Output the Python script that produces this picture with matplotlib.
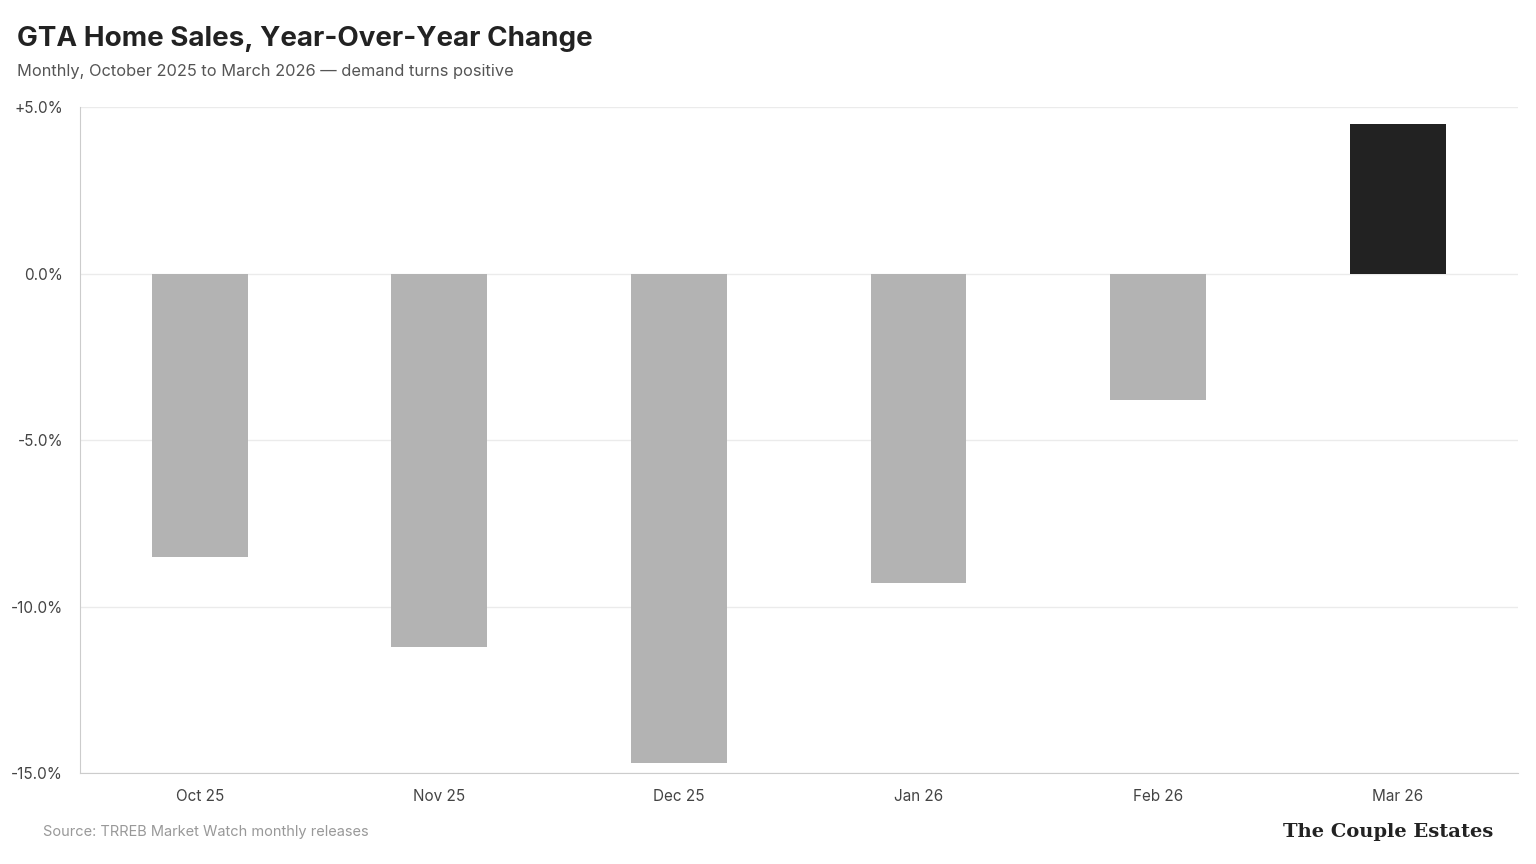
import matplotlib.pyplot as plt
import numpy as np

months = ["Oct 25", "Nov 25", "Dec 25", "Jan 26", "Feb 26", "Mar 26"]
yoy_change = [-8.5, -11.2, -14.7, -9.3, -3.8, 4.5]
ticks = [5, 0, -5, -10, -15]

plt.rcParams["font.family"] = ["Inter", "DejaVu Sans"]

fig = plt.figure(figsize=(15.36, 8.64), dpi=100)
ax = fig.add_axes([0.052, 0.105, 0.936, 0.771])

x = np.arange(len(months))
colors = ["#222222" if v > 0 else "#b3b3b3" for v in yoy_change]
ax.bar(x, yoy_change, 0.4, color=colors, zorder=3)

ax.set_xlim(-0.5, 5.5)
ax.set_ylim(-15, 5)
ax.set_yticks(ticks)
ax.set_yticklabels([f"{t:+.1f}%" if t > 0 else f"{t:.1f}%" for t in ticks])
ax.set_xticks(x)
ax.set_xticklabels(months)
ax.tick_params(length=0, labelsize=11, colors="#444444")
ax.tick_params(axis="x", pad=11)
ax.tick_params(axis="y", pad=12)
ax.grid(axis="y", color="#ebebeb", linewidth=1, zorder=0)
for s in ["top", "right"]:
    ax.spines[s].set_visible(False)
ax.spines["left"].set_color("#cccccc")
ax.spines["bottom"].set_color("#cccccc")

fig.text(0.011, 0.955, "GTA Home Sales, Year-Over-Year Change", fontsize=20,
         fontweight="bold", color="#222222", va="center")
fig.text(0.011, 0.917, "Monthly, October 2025 to March 2026 \u2014 demand turns positive",
         fontsize=11.8, color="#555555", va="center")
fig.text(0.028, 0.037, "Source: TRREB Market Watch monthly releases",
         fontsize=10.5, color="#999999", va="center")
fig.text(0.972, 0.037, "The Couple Estates", fontsize=14, fontweight="bold",
         family="DejaVu Serif", color="#222222", va="center", ha="right")

fig.savefig("out.png", dpi=100)
